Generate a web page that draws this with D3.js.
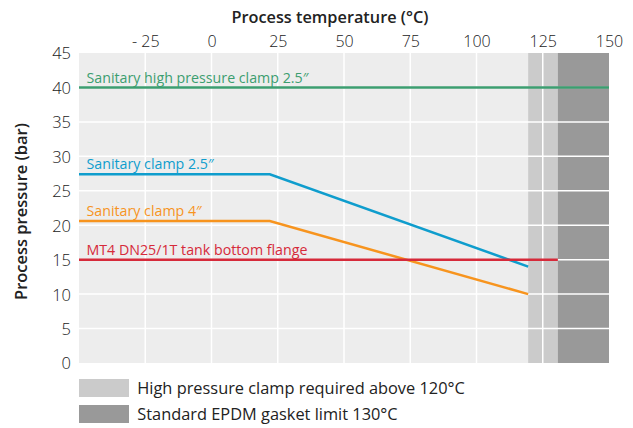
<!DOCTYPE html>
<html><head><meta charset="utf-8">
<script src="https://cdn.jsdelivr.net/npm/d3@7"></script>
<style>
html,body{margin:0;padding:0;background:#fff;}
text{font-family:"Open Sans",sans-serif;}
</style></head>
<body>
<svg id="chart" width="633" height="428"></svg>
<script>
const tempTicks = [-25, 0, 25, 50, 75, 100, 125, 150];
const pressureTicks = [0, 5, 10, 15, 20, 25, 30, 35, 40, 45];
const seriesNames = ["Sanitary high pressure clamp 2.5″", "Sanitary clamp 2.5″", "Sanitary clamp 4″", "MT4 DN25/1T tank bottom flange"];
const seriesColors = ["#3c9e70", "#0f9dcd", "#f7941e", "#d62a3a"];
const greenTemps = [-50, 150], greenPressures = [40, 40];
const blueTemps = [-50, 22, 119.5], bluePressures = [27.4, 27.4, 14];
const orangeTemps = [-50, 22, 119.5], orangePressures = [20.6, 20.6, 10];
const redTemps = [-50, 130.7], redPressures = [15, 15];
const bandLabels = ["High pressure clamp required above 120°C", "Standard EPDM gasket limit 130°C"];
const bandFrom = [119.5, 130.7], bandTo = [130.7, 150];
const bandColors = ["#cbcbcb", "#999999"];

const series = [
  {temps: greenTemps, p: greenPressures},
  {temps: blueTemps, p: bluePressures},
  {temps: orangeTemps, p: orangePressures},
  {temps: redTemps, p: redPressures}
].map((s, i) => ({name: seriesNames[i], color: seriesColors[i], pts: s.temps.map((t, j) => [t, s.p[j]])}));

const W = 633, H = 428, m = {l: 79, r: 24, t: 53, b: 65};
const svg = d3.select("#chart");
const x = d3.scaleLinear().domain([-50, 150]).range([m.l, W - m.r]);
const y = d3.scaleLinear().domain([0, 45]).range([H - m.b, m.t]);

// scale a text's font size so that its rendered width matches a target width
function fitWidth(sel, target) {
  const fs = parseFloat(sel.attr("font-size"));
  const w = sel.node().getComputedTextLength();
  if (w > 0) sel.attr("font-size", (fs * target / w).toFixed(2));
  return parseFloat(sel.attr("font-size"));
}

svg.append("rect").attr("x", x(-50)).attr("y", y(45)).attr("width", x(150) - x(-50)).attr("height", y(0) - y(45)).attr("fill", "#ededed");

bandFrom.forEach((f, i) => {
  svg.append("rect").attr("x", x(f)).attr("y", y(45)).attr("width", x(bandTo[i]) - x(f)).attr("height", y(0) - y(45)).attr("fill", bandColors[i]);
});

// grid
const g = svg.append("g");
tempTicks.filter(t => t < 150).forEach(t => {
  g.append("line").attr("x1", x(t)).attr("x2", x(t)).attr("y1", y(45)).attr("y2", y(0)).attr("stroke", "#fff").attr("stroke-width", 1.5);
});
pressureTicks.filter(p => p > 0 && p < 45).forEach(p => {
  g.append("line").attr("x1", x(-50)).attr("x2", x(150)).attr("y1", y(p)).attr("y2", y(p)).attr("stroke", "#fff").attr("stroke-width", 1.5);
});

// axes
const xAxis = d3.axisTop(x).tickValues(tempTicks).tickSize(0).tickPadding(0)
  .tickFormat(d => d < 0 ? "- " + Math.abs(d) : d);
const xa = svg.append("g").attr("transform", `translate(0,${47})`).call(xAxis);
xa.select(".domain").remove();
xa.selectAll("text").attr("font-size", 16).attr("fill", "#222").attr("font-family", "Open Sans").attr("font-weight", 300).attr("dy", 0);

const yAxis = d3.axisLeft(y).tickValues(pressureTicks).tickSize(0).tickPadding(0);
const ya = svg.append("g").attr("transform", `translate(${71},0)`).call(yAxis);
ya.select(".domain").remove();
ya.selectAll("text").attr("font-size", 16.5).attr("fill", "#222").attr("font-family", "Open Sans").attr("font-weight", 300).attr("dy", "0.36em");

const xt = svg.append("text").attr("x", 231.5).attr("y", 22.5).attr("font-size", 15.5).attr("font-weight", 600).attr("fill", "#222").text("Process temperature (°C)");
fitWidth(xt, 197);
const yt = svg.append("text").attr("transform", `translate(27,${211.5}) rotate(-90)`).attr("text-anchor", "middle").attr("font-size", 15.5).attr("font-weight", 600).attr("fill", "#222").text("Process pressure (bar)");
fitWidth(yt, 177);

// lines
const line = d3.line().x(d => x(d[0])).y(d => y(d[1]));
const labels = [];
series.forEach(s => {
  svg.append("path").attr("d", line(s.pts)).attr("fill", "none").attr("stroke", s.color).attr("stroke-width", 2.5);
  labels.push(svg.append("text").attr("x", x(s.pts[0][0]) + 7.5).attr("y", y(s.pts[0][1]) - 4.8).attr("font-size", 14).attr("fill", s.color).text(s.name));
});
const lfs = fitWidth(labels[0], 222);
labels.forEach(l => l.attr("font-size", lfs));

// legend
const legTexts = [];
bandLabels.forEach((lab, i) => {
  const yy = 379 + i * 26;
  svg.append("rect").attr("x", 79).attr("y", yy).attr("width", 50).attr("height", 18).attr("fill", bandColors[i]);
  legTexts.push(svg.append("text").attr("x", 137.3).attr("y", 394.3 + i * 25.7).attr("font-size", 15.5).attr("fill", "#222").text(lab));
});
const legfs = fitWidth(legTexts[0], 328);
legTexts.forEach(t => t.attr("font-size", legfs));
</script>
</body></html>
